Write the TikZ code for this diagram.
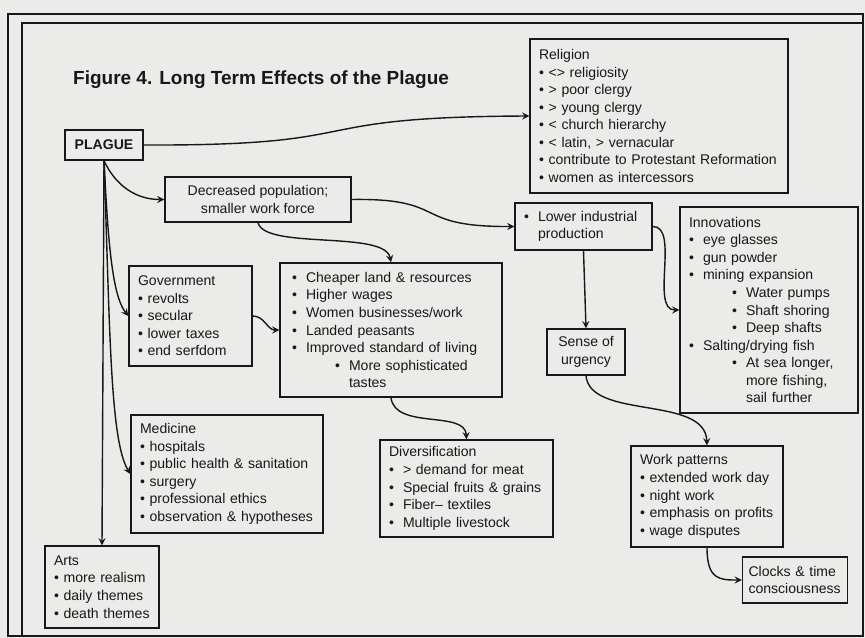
\documentclass[tikz,border=0pt]{standalone}
\usepackage{fontspec}
\setmainfont{Liberation Sans}
\definecolor{paper}{RGB}{235,235,233}
\definecolor{ink}{RGB}{24,24,24}
\newcommand{\dotitem}{\textbullet\ }
\newcommand{\pointitem}[1]{\makebox[0.28cm][l]{\textbullet}#1}
\newcommand{\subpoint}[1]{\hspace*{0.86cm}\makebox[0.28cm][l]{\textbullet}#1}
\begin{document}
\begin{tikzpicture}[x=0.02cm, y=-0.02cm,
    box/.style={draw=ink, line width=0.8pt, align=left, inner xsep=0.18cm, inner ysep=0.1cm, text=ink, font=\fontsize{8}{10}\selectfont},
    arrow/.style={->, >=stealth, draw=ink, line width=0.8pt}
]

% Page and frame
\fill[paper] (0,0) rectangle (865,638);
\useasboundingbox (0,0) rectangle (865,638);
\draw[ink, line width=1pt] (8,14) rectangle (863,636);
\draw[ink, line width=0.8pt] (22,636) -- (22,23) -- (863,23);

% Title
\node[anchor=west, text=ink, font=\fontsize{10.8}{13}\selectfont\bfseries] (title) at (67,80) {Figure 4. Long Term Effects of the Plague};

% Plague
\node[box, align=center, font=\fontsize{8}{10}\selectfont\bfseries, minimum width=1.56cm, minimum height=0.6cm] (plague) at (104,145) {PLAGUE};

% Religion
\node[box, text width=4.8cm, minimum height=3.08cm] (religion) at (659,116) {Religion\\
    \dotitem <> religiosity\\
    \dotitem > poor clergy\\
    \dotitem > young clergy\\
    \dotitem < church hierarchy\\
    \dotitem < latin, > vernacular\\
    \dotitem contribute to Protestant Reformation\\
    \dotitem women as intercessors};

% Decreased population
\node[box, align=center, minimum width=3.72cm, minimum height=0.9cm] (decpop) at (258,199.5) {Decreased population;\\smaller work force};

% Lower industrial production
\node[box, text width=2.38cm, minimum height=0.94cm] (lowind) at (583.5,226.5) {\pointitem{Lower industrial}\\\hspace*{0.28cm}production};

% Innovations
\node[box, text width=3.2cm, minimum height=4.12cm] (innov) at (769,310) {Innovations\\
    \pointitem{eye glasses}\\
    \pointitem{gun powder}\\
    \pointitem{mining expansion}\\
    \subpoint{Water pumps}\\
    \subpoint{Shaft shoring}\\
    \subpoint{Deep shafts}\\
    \pointitem{Salting/drying fish}\\
    \subpoint{At sea longer,}\\
    \hspace*{1.14cm}more fishing,\\
    \hspace*{1.14cm}sail further};

% Government
\node[box, text width=2.1cm, minimum height=2cm] (gov) at (190.5,316) {Government\\
    \dotitem revolts\\
    \dotitem secular\\
    \dotitem lower taxes\\
    \dotitem end serfdom};

% Economic effects
\node[box, inner xsep=0.24cm, text width=3.96cm, minimum height=2.68cm] (cheap) at (391,330) {\pointitem{Cheaper land \& resources}\\
    \pointitem{Higher wages}\\
    \pointitem{Women businesses/work}\\
    \pointitem{Landed peasants}\\
    \pointitem{Improved standard of living}\\
    \subpoint{More sophisticated}\\
    \hspace*{1.14cm}tastes};

% Sense of urgency
\node[box, align=center, minimum width=1.56cm, minimum height=0.92cm] (urgency) at (586,352) {Sense of\\urgency};

% Medicine
\node[box, text width=3.48cm, minimum height=2.36cm] (medicine) at (227,474) {Medicine\\
    \dotitem hospitals\\
    \dotitem public health \& sanitation\\
    \dotitem surgery\\
    \dotitem professional ethics\\
    \dotitem observation \& hypotheses};

% Diversification
\node[box, text width=3.1cm, minimum height=1.94cm] (divers) at (466.5,488.5) {Diversification\\
    \pointitem{> demand for meat}\\
    \pointitem{Special fruits \& grains}\\
    \pointitem{Fiber– textiles}\\
    \pointitem{Multiple livestock}};

% Work patterns
\node[box, text width=2.68cm, minimum height=2.02cm] (work) at (707,496.5) {Work patterns\\
    \dotitem extended work day\\
    \dotitem night work\\
    \dotitem emphasis on profits\\
    \dotitem wage disputes};

% Clocks
\node[box, inner xsep=0.12cm, text width=1.86cm, minimum height=0.92cm] (clocks) at (795,580) {Clocks \& time\\consciousness};

% Arts
\node[box, text width=1.92cm, minimum height=1.64cm] (arts) at (102,587) {Arts\\
    \dotitem more realism\\
    \dotitem daily themes\\
    \dotitem death themes};

% Arrows
\draw[arrow] (plague.east) .. controls (380,146) and (290,117) .. (religion.west);
\draw[arrow] (plague.south) to[out=-65, in=180] (decpop.west);
\draw[arrow] (plague.south) -- (arts.north);
\draw[arrow] (plague.south) .. controls (108,240) and (112,295) .. (gov.west);
\draw[arrow] (plague.south) .. controls (110,330) and (110,440) .. (medicine.west);
\draw[arrow] (decpop.east) .. controls (450,198) and (410,227) .. (lowind.west);
\draw[arrow] (decpop.south) .. controls (265,250) and (385,230) .. (cheap.north);
\draw[arrow] (gov.east) to[out=0, in=180] (cheap.west);
\draw[arrow] (cheap.south) .. controls (395,430) and (465,410) .. (divers.north);
\draw[arrow] (lowind.south) -- (urgency.north);
\draw[arrow] (lowind.east) .. controls (680,226) and (650,310) .. (innov.west);
\draw[arrow] (urgency.south) .. controls (590,420) and (705,395) .. (work.north);
\draw[arrow] (work.south) .. controls (707,580) and (720,580) .. (clocks.west);

\end{tikzpicture}
\end{document}
